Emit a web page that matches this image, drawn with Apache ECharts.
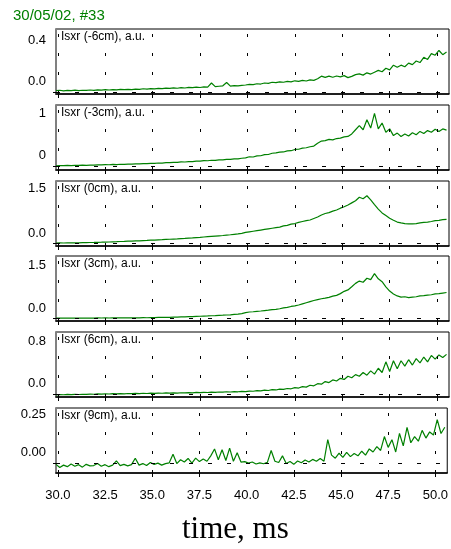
<!DOCTYPE html>
<html>
<head>
<meta charset="utf-8">
<script src="https://cdn.jsdelivr.net/npm/echarts@6/dist/echarts.min.js"></script>
<style>
  html, body { margin: 0; padding: 0; background: #fff; }
  #chart { width: 451px; height: 549px; }
</style>
</head>
<body>
<div id="chart"></div>
<script>
// sampling of the traces: one value every 0.2 ms starting at 29.9 ms
const t0 = 29.9
const dt = 0.2
const xTicks = [30, 32.5, 35, 37.5, 40, 42.5, 45, 47.5, 50]

const traceNames = ['Isxr (-6cm), a.u.', 'Isxr (-3cm), a.u.', 'Isxr (0cm), a.u.',
  'Isxr (3cm), a.u.', 'Isxr (6cm), a.u.', 'Isxr (9cm), a.u.']
const yTicks = [[0, 0.4], [0, 1], [0, 1.5], [0, 1.5], [0, 0.8], [0, 0.25]]
const yDigits = [1, 0, 1, 1, 1, 2]
const yMin = [-0.02, -0.1, -0.1, -0.1, -0.06, -0.066]
const yMax = [0.6, 1.45, 2.1, 2.18, 1.16, 0.355]

// Isxr traces, a.u.
const isxrM6 = [
  0.012, 0.016, 0.010, 0.015, 0.013, 0.017, 0.012, 0.016, 0.014, 0.018,
  0.015, 0.020, 0.017, 0.021, 0.018, 0.022, 0.019, 0.024, 0.021, 0.025,
  0.022, 0.027, 0.024, 0.030, 0.027, 0.032, 0.029, 0.034, 0.031, 0.036,
  0.033, 0.038, 0.035, 0.041, 0.037, 0.043, 0.040, 0.046, 0.042, 0.048,
  0.046, 0.085, 0.050, 0.054, 0.058, 0.090, 0.055, 0.060, 0.057, 0.063,
  0.066, 0.072, 0.069, 0.078, 0.075, 0.085, 0.082, 0.092, 0.088, 0.095,
  0.092, 0.100, 0.096, 0.106, 0.100, 0.110, 0.104, 0.115, 0.110, 0.125,
  0.150, 0.138, 0.150, 0.140, 0.152, 0.143, 0.155, 0.136, 0.148, 0.165,
  0.172, 0.160, 0.182, 0.170, 0.188, 0.205, 0.192, 0.225, 0.210, 0.255,
  0.235, 0.255, 0.240, 0.275, 0.260, 0.295, 0.280, 0.330, 0.310, 0.365,
  0.350, 0.395, 0.355, 0.380
]
const isxrM3 = [
  0.000, 0.004, 0.002, 0.008, 0.006, 0.011, 0.009, 0.014, 0.012, 0.018,
  0.016, 0.022, 0.020, 0.027, 0.025, 0.032, 0.030, 0.037, 0.035, 0.042,
  0.040, 0.048, 0.046, 0.054, 0.052, 0.060, 0.058, 0.067, 0.066, 0.075,
  0.074, 0.083, 0.082, 0.092, 0.091, 0.101, 0.100, 0.112, 0.110, 0.122,
  0.120, 0.133, 0.131, 0.143, 0.142, 0.155, 0.152, 0.166, 0.165, 0.180,
  0.190, 0.215, 0.210, 0.235, 0.240, 0.265, 0.270, 0.300, 0.310, 0.325,
  0.330, 0.355, 0.360, 0.390, 0.395, 0.420, 0.430, 0.455, 0.470, 0.540,
  0.590, 0.600, 0.630, 0.620, 0.650, 0.660, 0.690, 0.700, 0.760, 0.860,
  0.960, 0.860, 1.100, 0.900, 1.250, 0.880, 1.020, 0.800, 0.880, 0.720,
  0.780, 0.700, 0.760, 0.710, 0.790, 0.740, 0.820, 0.770, 0.840, 0.800,
  0.870, 0.820, 0.880, 0.850
]
const isxr0 = [
  0.000, 0.003, 0.002, 0.006, 0.005, 0.010, 0.009, 0.014, 0.013, 0.018,
  0.020, 0.026, 0.028, 0.034, 0.036, 0.042, 0.045, 0.052, 0.055, 0.062,
  0.066, 0.072, 0.076, 0.084, 0.088, 0.096, 0.100, 0.108, 0.113, 0.122,
  0.128, 0.136, 0.142, 0.151, 0.158, 0.168, 0.175, 0.186, 0.195, 0.205,
  0.215, 0.225, 0.235, 0.245, 0.255, 0.268, 0.280, 0.295, 0.310, 0.330,
  0.360, 0.380, 0.400, 0.420, 0.440, 0.460, 0.480, 0.500, 0.520, 0.540,
  0.580, 0.600, 0.640, 0.660, 0.700, 0.730, 0.760, 0.780, 0.830, 0.880,
  0.950, 1.000, 1.030, 1.080, 1.120, 1.180, 1.230, 1.290, 1.360, 1.430,
  1.550, 1.500, 1.600, 1.460, 1.300, 1.150, 1.020, 0.930, 0.840, 0.770,
  0.710, 0.680, 0.660, 0.650, 0.650, 0.660, 0.680, 0.700, 0.710, 0.730,
  0.760, 0.770, 0.790, 0.800
]
const isxr3 = [
  0.000, 0.002, 0.000, 0.003, 0.001, 0.004, 0.002, 0.005, 0.003, 0.006,
  0.004, 0.007, 0.005, 0.008, 0.006, 0.009, 0.007, 0.010, 0.008, 0.011,
  0.009, 0.013, 0.011, 0.016, 0.014, 0.020, 0.019, 0.025, 0.024, 0.030,
  0.030, 0.036, 0.037, 0.043, 0.045, 0.052, 0.055, 0.062, 0.066, 0.073,
  0.078, 0.085, 0.090, 0.097, 0.103, 0.110, 0.118, 0.130, 0.142, 0.160,
  0.195, 0.215, 0.225, 0.240, 0.250, 0.265, 0.280, 0.300, 0.310, 0.330,
  0.360, 0.380, 0.410, 0.430, 0.460, 0.500, 0.540, 0.580, 0.620, 0.650,
  0.680, 0.700, 0.730, 0.770, 0.800, 0.860, 0.940, 0.990, 1.100, 1.220,
  1.300, 1.260, 1.400, 1.350, 1.560, 1.380, 1.280, 1.100, 0.950, 0.850,
  0.780, 0.740, 0.750, 0.720, 0.740, 0.750, 0.780, 0.790, 0.810, 0.820,
  0.850, 0.860, 0.880, 0.900
]
const isxr6 = [
  -0.020, -0.015, -0.018, -0.012, -0.016, -0.010, -0.013, -0.008, -0.011, -0.005,
  -0.008, -0.003, -0.006, 0.000, -0.004, 0.002, -0.002, 0.004, 0.000, 0.006,
  0.002, 0.008, 0.004, 0.010, 0.006, 0.012, 0.008, 0.014, 0.010, 0.016,
  0.012, 0.018, 0.014, 0.020, 0.016, 0.022, 0.018, 0.025, 0.021, 0.028,
  0.024, 0.031, 0.027, 0.034, 0.030, 0.038, 0.034, 0.042, 0.038, 0.047,
  0.042, 0.052, 0.048, 0.060, 0.055, 0.068, 0.062, 0.078, 0.072, 0.088,
  0.082, 0.100, 0.094, 0.115, 0.108, 0.135, 0.125, 0.160, 0.150, 0.190,
  0.180, 0.230, 0.210, 0.260, 0.240, 0.290, 0.270, 0.330, 0.300, 0.360,
  0.330, 0.400, 0.350, 0.430, 0.370, 0.480, 0.400, 0.600, 0.420, 0.620,
  0.470, 0.620, 0.520, 0.640, 0.540, 0.660, 0.580, 0.690, 0.600, 0.720,
  0.650, 0.730, 0.680, 0.740
]
const isxr9 = [
  -0.010, -0.030, -0.015, -0.025, -0.008, -0.022, -0.012, -0.028, -0.010, -0.020,
  -0.018, -0.005, -0.022, -0.012, -0.025, -0.015, 0.012, -0.018, -0.010, -0.020,
  -0.012, 0.030, -0.015, -0.005, -0.018, 0.002, -0.010, -0.002, -0.015, -0.005,
  0.000, 0.055, -0.005, 0.020, 0.005, 0.028, -0.002, 0.030, 0.008, 0.025,
  0.010, 0.045, 0.090, 0.020, 0.085, 0.015, 0.095, 0.010, 0.065, 0.005,
  0.008, -0.002, 0.005, -0.008, 0.000, -0.006, 0.003, 0.080, 0.010, 0.002,
  0.045, -0.005, 0.008, -0.010, 0.012, 0.000, 0.018, 0.005, 0.022, 0.010,
  0.028, 0.010, 0.150, 0.050, 0.030, 0.062, 0.035, 0.068, 0.040, 0.060,
  0.045, 0.075, 0.050, 0.090, 0.070, 0.105, 0.080, 0.170, 0.100, 0.150,
  0.070, 0.190, 0.110, 0.230, 0.130, 0.170, 0.140, 0.210, 0.160, 0.200,
  0.180, 0.280, 0.190, 0.230
]
const traces = [isxrM6, isxrM3, isxr0, isxr3, isxr6, isxr9]

const gridTops = [29, 105, 181, 256, 332, 408]
const gridH = 65
const green = '#008000'
const sans = 'Liberation Sans, Arial, sans-serif'

let grids = [], xAxes = [], yAxes = [], series = []
let titles = [{
  text: '30/05/02, #33', left: 13, top: 8, padding: 0,
  textStyle: { color: green, fontSize: 15, fontWeight: 'normal', fontFamily: sans }
}, {
  text: 'time, ms', left: 182, top: 514, padding: 0,
  textStyle: { color: '#000', fontSize: 31, fontWeight: 'normal', fontFamily: 'Liberation Serif, Times New Roman, serif' }
}]

traces.forEach((vals, k) => {
  grids.push({
    left: 56, right: 2, top: gridTops[k], height: gridH,
    show: true, borderColor: '#000', borderWidth: 1, backgroundColor: 'transparent'
  })
  const last = k === traces.length - 1
  xAxes.push({
    type: 'value', gridIndex: k, min: 29.9, max: 50.63,
    axisLine: { show: true, onZero: false, lineStyle: { color: '#000', width: 1.5 } },
    axisTick: { show: true, customValues: xTicks, length: 4, lineStyle: { color: '#000' } },
    axisLabel: {
      show: last, customValues: xTicks, margin: 16,
      formatter: v => v.toFixed(1),
      color: '#000', fontSize: 13, fontFamily: sans
    },
    splitLine: { show: false }
  })
  yAxes.push({
    type: 'value', gridIndex: k, min: yMin[k], max: yMax[k],
    axisLine: { show: true, onZero: false, lineStyle: { color: '#808080', width: 2 } },
    axisTick: { show: true, customValues: [0], length: 3, lineStyle: { color: '#000' } },
    axisLabel: {
      customValues: yTicks[k], margin: 10,
      formatter: v => v.toFixed(yDigits[k]),
      color: '#000', fontSize: 13, fontFamily: sans,
      verticalAlign: 'bottom', lineHeight: 20
    },
    splitLine: { show: false }
  })
  titles.push({
    text: traceNames[k], left: 61, top: gridTops[k] + 2, padding: 0,
    textStyle: { color: '#000', fontSize: 12, fontWeight: 'normal', fontFamily: sans }
  })
  const gridLines = xTicks.map(v => ({ xAxis: v, lineStyle: { type: [3, 16], color: '#000', width: 1 } }))
  gridLines.push({ yAxis: 0, lineStyle: { type: [4, 15], color: '#000', width: 1 } })
  series.push({
    type: 'line', xAxisIndex: k, yAxisIndex: k,
    data: vals.map((v, i) => [t0 + i * dt, v]),
    showSymbol: false, animation: false,
    lineStyle: { color: green, width: 1.2 },
    markLine: {
      silent: true, symbol: 'none', animation: false,
      label: { show: false }, data: gridLines
    }
  })
})

const chart = echarts.init(document.getElementById('chart'), null, { renderer: 'canvas' })
chart.setOption({
  animation: false,
  title: titles,
  grid: grids,
  xAxis: xAxes,
  yAxis: yAxes,
  series: series
})
</script>
</body>
</html>
